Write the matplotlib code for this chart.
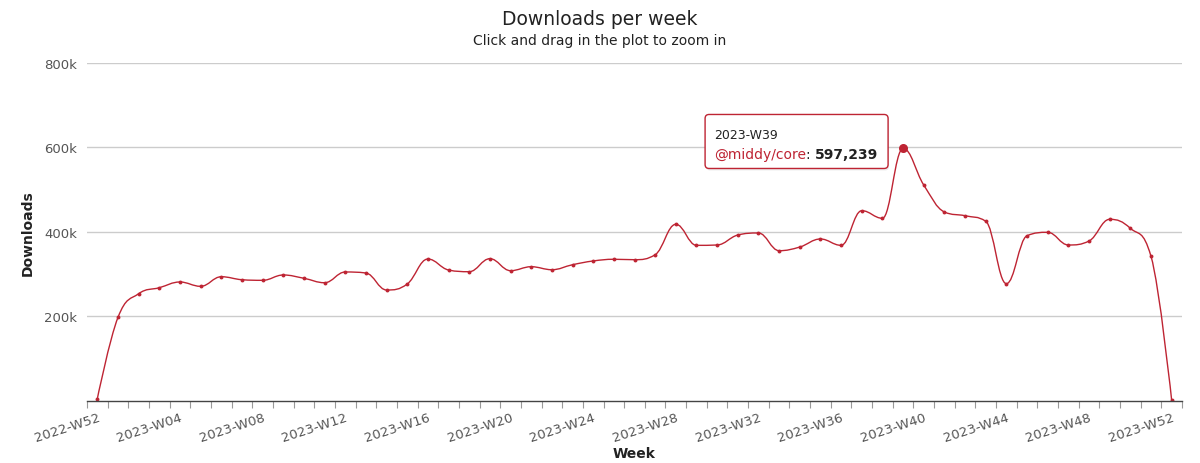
import matplotlib
matplotlib.use("Agg")
import matplotlib.pyplot as plt
from matplotlib.path import Path
from matplotlib.patches import PathPatch, FancyBboxPatch
from matplotlib.transforms import IdentityTransform
from matplotlib.ticker import FuncFormatter

# Weekly downloads of @middy/core
weeks = ["2022-W52"] + [f"2023-W{i:02d}" for i in range(1, 53)]
downloads = [
    5000, 197600, 253500, 267700, 281200, 271000, 293700, 286600, 285200, 297800,
    290000, 279500, 304900, 302500, 262300, 276500, 335600, 309600, 305600, 336400,
    308000, 317400, 310300, 322100, 331000, 335000, 334000, 345800, 417800, 368000,
    368800, 392400, 397200, 355300, 364000, 383000, 368000, 450000, 432000, 597239,
    510800, 447000, 438000, 424900, 277200, 390800, 398800, 368800, 378200, 429600,
    408300, 342000, 1000,
]
label_every = 4
y_ticks = [200000, 400000, 600000, 800000]
hover_week = "2023-W39"
series_name = "@middy/core"

RED = "#be2433"


def spline_path(xs, ys, smoothing=1.5):
    # same control points as a Highcharts "spline" series
    n = len(xs)
    denom = smoothing + 1
    left = [None] * n
    right = [None] * n
    for i in range(1, n - 1):
        x, y = xs[i], ys[i]
        lx, ly = xs[i - 1], ys[i - 1]
        nx, ny = xs[i + 1], ys[i + 1]
        lcx = (smoothing * x + lx) / denom
        lcy = (smoothing * y + ly) / denom
        rcx = (smoothing * x + nx) / denom
        rcy = (smoothing * y + ny) / denom
        corr = 0
        if rcx != lcx:
            corr = (rcy - lcy) * (rcx - x) / (rcx - lcx) + y - rcy
        lcy += corr
        rcy += corr
        if lcy > ly and lcy > y:
            lcy = max(ly, y)
            rcy = 2 * y - lcy
        elif lcy < ly and lcy < y:
            lcy = min(ly, y)
            rcy = 2 * y - lcy
        if rcy > ny and rcy > y:
            rcy = max(ny, y)
            lcy = 2 * y - rcy
        elif rcy < ny and rcy < y:
            rcy = min(ny, y)
            lcy = 2 * y - rcy
        left[i] = (lcx, lcy)
        right[i] = (rcx, rcy)

    verts = [(xs[0], ys[0])]
    codes = [Path.MOVETO]
    for i in range(1, n):
        c1 = right[i - 1] if right[i - 1] else (xs[i - 1], ys[i - 1])
        c2 = left[i] if left[i] else (xs[i], ys[i])
        verts += [c1, c2, (xs[i], ys[i])]
        codes += [Path.CURVE4] * 3
    return Path(verts, codes)


x = list(range(len(weeks)))

fig = plt.figure(figsize=(12, 4.64), dpi=100)
ax = fig.add_axes([0.0725, 0.134, 0.9125, 0.7285])

ax.add_patch(PathPatch(spline_path(x, downloads), fc="none", ec=RED, lw=1.0))
ax.plot(x, downloads, "o", color=RED, markersize=2.8, markeredgewidth=0)

hi = weeks.index(hover_week)
ax.plot([hi], [downloads[hi]], "o", color=RED, markersize=6.5, markeredgewidth=0, zorder=5)

ax.set_xlim(-0.5, len(weeks) - 0.5)
ax.set_ylim(0, 800000)

major = x[::label_every]
ax.set_xticks(major, [weeks[i] for i in major])
ax.set_xticks([i - 0.5 for i in range(len(weeks) + 1)], minor=True)
ax.tick_params(axis="x", which="major", length=0, pad=7, labelsize=9.5, labelcolor="#555555")
ax.tick_params(axis="x", which="minor", length=5, width=0.8, color="#999999")
plt.setp(ax.get_xticklabels(), rotation=18, ha="right", rotation_mode="anchor")

ax.set_yticks(y_ticks)
ax.yaxis.set_major_formatter(FuncFormatter(lambda v, p: f"{int(v / 1000)}k"))
ax.tick_params(axis="y", length=0, pad=7, labelsize=9.5, labelcolor="#555555")
ax.grid(axis="y", color="#cccccc", lw=1)
ax.set_axisbelow(True)

for side in ["top", "right", "left"]:
    ax.spines[side].set_visible(False)
ax.spines["bottom"].set_color("#444444")
ax.spines["bottom"].set_linewidth(1)

ax.set_ylabel("Downloads", fontsize=10, fontweight="bold", color="#222222")
ax.yaxis.set_label_coords(-0.048, 0.5)
ax.set_xlabel("Week", fontsize=10, fontweight="bold", color="#222222")
ax.xaxis.set_label_coords(0.5, -0.135)

fig.text(0.5, 0.958, "Downloads per week", ha="center", va="center", fontsize=13.5, color="#222222")
fig.text(0.5, 0.912, "Click and drag in the plot to zoom in", ha="center", va="center",
         fontsize=10, color="#222222")

# tooltip next to the hovered point
px, py = ax.transData.transform((hi, downloads[hi]))
shadow = FancyBboxPatch((px - 197, py - 22), 183, 55,
                        boxstyle="round,pad=0,rounding_size=4", transform=IdentityTransform(),
                        fc="#000000", ec="none", alpha=0.08, clip_on=False, zorder=6)
box = FancyBboxPatch((px - 198, py - 20), 183, 54,
                     boxstyle="round,pad=0,rounding_size=4", transform=IdentityTransform(),
                     fc="white", ec=RED, lw=1, clip_on=False, zorder=7)
ax.add_patch(shadow)
ax.add_patch(box)

ax.annotate(hover_week, xy=(hi, downloads[hi]), xycoords="data",
            xytext=(-189, 14), textcoords="offset pixels",
            ha="left", va="center", fontsize=9, color="#222222", zorder=8)
t1 = ax.annotate(series_name, xy=(hi, downloads[hi]), xycoords="data",
                 xytext=(-189, -6), textcoords="offset pixels",
                 ha="left", va="center", fontsize=10, color=RED, zorder=8)
t2 = ax.annotate(": ", xy=(1, 0), xycoords=t1, ha="left", va="bottom",
                 fontsize=10, color="#222222", zorder=8)
ax.annotate(f"{downloads[hi]:,}", xy=(1, 0), xycoords=t2, ha="left", va="bottom",
            fontsize=10, fontweight="bold", color="#222222", zorder=8)

fig.savefig("out.png", dpi=100)
